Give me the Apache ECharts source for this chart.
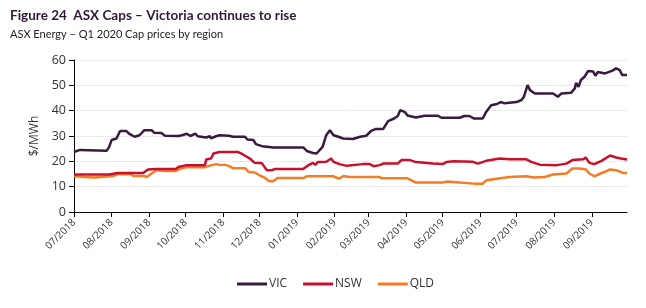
<!DOCTYPE html>
<html>
<head>
<meta charset="utf-8">
<script src="https://cdn.jsdelivr.net/npm/echarts@6/dist/echarts.min.js"></script>
<style>
html,body{margin:0;padding:0;background:#fff;}
#chart{width:646px;height:308px;}
</style>
</head>
<body>
<div id="chart"></div>
<script>
var startDate = '2018-07-01';
var endDate = '2019-09-30';
var seriesNames = ['VIC', 'NSW', 'QLD'];

var vicDates = ['2018-07-01','2018-07-06','2018-07-28','2018-07-30','2018-08-01','2018-08-05','2018-08-08','2018-08-13','2018-08-16','2018-08-20','2018-08-24','2018-08-28','2018-09-03','2018-09-05','2018-09-11','2018-09-14','2018-09-25','2018-09-28','2018-10-02','2018-10-05','2018-10-09','2018-10-11','2018-10-18','2018-10-21','2018-10-22','2018-10-26','2018-10-29','2018-11-06','2018-11-09','2018-11-19','2018-11-21','2018-11-26','2018-11-28','2018-12-03','2018-12-09','2018-12-12','2019-01-06','2019-01-09','2019-01-14','2019-01-17','2019-01-18','2019-01-22','2019-01-25','2019-01-28','2019-01-31','2019-02-04','2019-02-08','2019-02-16','2019-02-22','2019-02-27','2019-03-03','2019-03-07','2019-03-13','2019-03-17','2019-03-22','2019-03-25','2019-03-27','2019-03-31','2019-04-02','2019-04-09','2019-04-16','2019-04-27','2019-04-30','2019-05-15','2019-05-19','2019-05-23','2019-05-27','2019-06-03','2019-06-06','2019-06-10','2019-06-14','2019-06-18','2019-06-21','2019-07-01','2019-07-05','2019-07-07','2019-07-10','2019-07-12','2019-07-16','2019-07-31','2019-08-04','2019-08-07','2019-08-15','2019-08-18','2019-08-19','2019-08-21','2019-08-23','2019-08-26','2019-08-29','2019-09-02','2019-09-04','2019-09-06','2019-09-12','2019-09-13','2019-09-18','2019-09-21','2019-09-24','2019-09-26','2019-09-30'];
var vicValues = [23.7,24.5,24.2,25.7,28.4,29,32,32,30.7,29.7,30.3,32.3,32.3,31.3,31.2,30.1,30,30.3,30.9,30,30.9,29.9,29.4,29.9,29.1,29.9,30.3,30.1,29.7,29.7,28.6,28.4,26.8,26,25.7,25.5,25.5,24.1,23.3,23.1,23.8,25.7,30.3,32.3,30.3,29.7,29,28.8,29.7,30.1,32,32.8,32.8,35.9,36.9,37.9,40.2,39.4,38.1,37.3,38,38,37.2,37.2,37.9,37.9,36.9,36.9,39.6,42.1,42.5,43.4,42.9,43.4,44.2,45.5,50.1,48.1,46.8,46.8,45.5,46.8,47.1,48.8,51,49.4,52.1,53.4,55.7,55.5,53.8,55.3,54.7,55.4,55.8,56.7,56,54.1,54.1];

var nswDates = ['2018-07-01','2018-07-30','2018-08-06','2018-08-27','2018-08-31','2018-09-07','2018-09-23','2018-09-25','2018-10-02','2018-10-17','2018-10-18','2018-10-22','2018-10-24','2018-10-29','2018-11-13','2018-11-17','2018-11-23','2018-11-27','2018-12-03','2018-12-07','2018-12-11','2018-12-14','2019-01-06','2019-01-10','2019-01-14','2019-01-16','2019-01-18','2019-01-25','2019-01-29','2019-01-31','2019-02-05','2019-02-11','2019-02-13','2019-02-24','2019-03-02','2019-03-05','2019-03-10','2019-03-13','2019-03-25','2019-03-28','2019-04-04','2019-04-09','2019-04-23','2019-05-01','2019-05-04','2019-05-10','2019-05-26','2019-05-30','2019-06-06','2019-06-17','2019-06-25','2019-07-09','2019-07-13','2019-07-20','2019-08-03','2019-08-11','2019-08-16','2019-08-25','2019-08-27','2019-08-30','2019-09-03','2019-09-09','2019-09-16','2019-09-21','2019-09-25','2019-09-30'];
var nswValues = [14.8,14.8,15.4,15.4,16.8,17,17,17.8,18.5,18.5,20.7,21.1,23.1,23.7,23.7,22.8,21.1,19.4,19.2,16.5,16.5,17,17,18.4,19.4,18.6,19.7,19.8,21.1,19.8,18.9,18.2,18.4,18.9,18.9,18.1,18.5,19.1,19.1,20.5,20.5,19.7,19.1,18.9,19.7,20,19.8,19.1,20.2,21.1,20.8,20.8,19.8,18.7,18.5,19.1,20.5,20.8,21.5,19.4,18.9,20.2,22.3,21.5,21.1,20.7];

var qldDates = ['2018-07-01','2018-07-10','2018-07-18','2018-07-19','2018-08-02','2018-08-06','2018-08-17','2018-08-19','2018-08-28','2018-08-30','2018-09-03','2018-09-07','2018-09-15','2018-09-23','2018-09-26','2018-10-02','2018-10-17','2018-10-22','2018-10-26','2018-10-31','2018-11-02','2018-11-06','2018-11-09','2018-11-19','2018-11-22','2018-11-27','2018-12-01','2018-12-05','2018-12-09','2018-12-12','2018-12-16','2019-01-06','2019-01-09','2019-01-31','2019-02-02','2019-02-05','2019-02-08','2019-02-13','2019-03-10','2019-03-12','2019-04-02','2019-04-09','2019-05-01','2019-05-04','2019-05-15','2019-05-27','2019-06-03','2019-06-06','2019-06-25','2019-07-09','2019-07-15','2019-07-24','2019-07-31','2019-08-11','2019-08-16','2019-08-22','2019-08-27','2019-08-30','2019-09-03','2019-09-08','2019-09-13','2019-09-16','2019-09-21','2019-09-27','2019-09-30'];
var qldValues = [14.1,13.8,13.6,14.2,14.2,14.9,14.9,14.2,14.2,13.8,15.2,16.5,16.2,16.2,17,17.7,17.7,18.4,18.9,18.5,18.7,18.1,17.3,17.3,15.8,15.6,14.5,13.6,12.1,12.1,13.4,13.4,14.1,14.1,13.6,13.2,14.2,13.8,13.8,13.3,13.3,11.6,11.6,12,11.6,11.2,11.2,12.5,13.8,14.1,13.6,13.8,14.8,15.2,17.2,17.2,16.8,15.2,14.1,15.2,16.1,16.8,16.5,15.4,15.4];

var yTicks = [0, 10, 20, 30, 40, 50, 60];

// build daily category axis
function pad(n){ return (n < 10 ? '0' : '') + n; }
var categories = [];
(function(){
  var d = new Date(startDate + 'T00:00:00Z');
  var e = new Date(endDate + 'T00:00:00Z');
  while (d <= e) {
    categories.push(d.getUTCFullYear() + '-' + pad(d.getUTCMonth() + 1) + '-' + pad(d.getUTCDate()));
    d = new Date(d.getTime() + 86400000);
  }
})();
function toSeries(dates, values) {
  var map = {};
  for (var i = 0; i < dates.length; i++) map[dates[i]] = values[i];
  return categories.map(function(c){ return map.hasOwnProperty(c) ? map[c] : null; });
}
function isMonthStart(idx, val) {
  return val.slice(8) === '01';
}

var colors = ['#3a1a3e', '#c8102e', '#f57c22'];
var chart = echarts.init(document.getElementById('chart'), null, {renderer: 'canvas'});
chart.setOption({
  animation: false,
  color: colors,
  title: [{
    text: 'Figure 24  ASX Caps \u2013 Victoria continues to rise',
    left: 5, top: 4,
    textStyle: {fontFamily: 'Lato', fontWeight: 'bold', fontSize: 13.5, color: '#2e1a33'}
  }, {
    text: 'ASX Energy \u2013 Q1 2020 Cap prices by region',
    left: 5, top: 24,
    textStyle: {fontFamily: 'Lato', fontWeight: 'normal', fontSize: 11, color: '#222'}
  }],
  grid: {left: 74, right: 19, top: 60, bottom: 96, containLabel: false},
  legend: {
    data: seriesNames,
    bottom: 13, left: 232,
    icon: 'rect', itemWidth: 30, itemHeight: 3, itemGap: 16,
    textStyle: {fontFamily: 'Open Sans', fontSize: 12, color: '#333', padding: [0,0,0,-3]}
  },
  xAxis: {
    type: 'category',
    data: categories,
    boundaryGap: false,
    axisLine: {lineStyle: {color: '#000', width: 1}},
    axisTick: {show: true, interval: isMonthStart, length: 5, lineStyle: {color: '#000'}},
    axisLabel: {
      interval: isMonthStart, rotate: 45, fontSize: 10, color: '#333', margin: 9,
      fontFamily: 'Open Sans',
      formatter: function(v){ return v.slice(5,7) + '/' + v.slice(0,4); }
    },
    splitLine: {show: false}
  },
  yAxis: {
    type: 'value', min: yTicks[0], max: yTicks[yTicks.length-1], interval: 10,
    name: '$/MWh', nameLocation: 'middle', nameRotate: 90, nameGap: 24,
    nameTextStyle: {fontFamily: 'Open Sans', fontSize: 12, color: '#333'},
    axisLine: {show: true, lineStyle: {color: '#000', width: 1}},
    axisTick: {show: true, length: 5, lineStyle: {color: '#000'}},
    axisLabel: {fontFamily: 'Open Sans', fontSize: 12.5, color: '#333', margin: 8},
    splitLine: {show: true, lineStyle: {color: '#ebebeb', width: 1}}
  },
  series: [
    {name: seriesNames[0], type: 'line', data: toSeries(vicDates, vicValues), connectNulls: true, showSymbol: false, symbol: 'none', lineStyle: {width: 2.5}, z: 3},
    {name: seriesNames[1], type: 'line', data: toSeries(nswDates, nswValues), connectNulls: true, showSymbol: false, symbol: 'none', lineStyle: {width: 2.5}, z: 2},
    {name: seriesNames[2], type: 'line', data: toSeries(qldDates, qldValues), connectNulls: true, showSymbol: false, symbol: 'none', lineStyle: {width: 2.5}, z: 1}
  ]
});
</script>
</body>
</html>
